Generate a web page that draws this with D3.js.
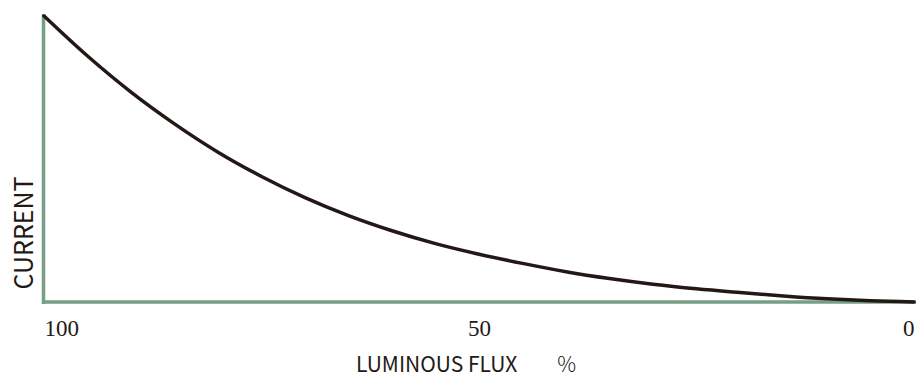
<!DOCTYPE html>
<html>
<head>
<meta charset="utf-8">
<script src="https://cdn.jsdelivr.net/npm/d3@7"></script>
<style>
  body { margin: 0; background: #fff; }
  svg { display: block; }
</style>
</head>
<body>
<div id="chart"></div>
<script>
// luminous flux (%) -> current
var flux    = [100, 95, 90, 85, 80, 75, 70, 65, 60, 55, 50, 45, 40, 35, 30, 25, 20, 15, 10, 5, 0];
var current = [100, 86.0, 73.4, 62.3, 52.4, 43.9, 36.5, 30.2, 24.9, 20.4, 16.7,
               13.5, 10.6, 8.2, 6.2, 4.6, 3.3, 2.1, 1.1, 0.4, 0];
var tickLabels = [100, 50, 0];

var W = 916, H = 379;
var margin = {top: 16, right: 2, bottom: 77, left: 44},
    width = W - margin.left - margin.right,
    height = H - margin.top - margin.bottom;

var data = flux.map(function(f, i) { return {x: f, y: current[i]}; });

var x = d3.scaleLinear().domain([100, 0]).range([0, width]);
var y = d3.scaleLinear().domain([0, 100]).range([height, 0]);

var svg = d3.select("#chart")
    .append("svg")
    .attr("width", W)
    .attr("height", H)
  .append("g")
    .attr("transform", "translate(" + margin.left + "," + margin.top + ")");

var green = "#769e87",
    ink = "#231815";

// axes lines
svg.append("line")
    .attr("x1", -0.5).attr("x2", -0.5)
    .attr("y1", -2).attr("y2", height + 2)
    .style("stroke", green)
    .style("stroke-width", 3.5);

svg.append("line")
    .attr("x1", -2).attr("x2", width + 2)
    .attr("y1", height).attr("y2", height)
    .style("stroke", green)
    .style("stroke-width", 3.5);

// the curve
var line = d3.line()
    .x(function(d) { return x(d.x); })
    .y(function(d) { return y(d.y); })
    .curve(d3.curveMonotoneX);

svg.append("path")
    .datum(data)
    .attr("d", line)
    .style("fill", "none")
    .style("stroke", ink)
    .style("stroke-width", 3.5)
    .style("stroke-linecap", "round");

// x tick labels
var xAxis = svg.append("g")
    .attr("transform", "translate(0," + height + ")")
    .call(d3.axisBottom(x).tickValues(tickLabels).tickSize(0).tickFormat(d3.format("d")));

xAxis.select(".domain").remove();
xAxis.selectAll("text")
    .attr("y", 34)
    .attr("dy", 0)
    .style("font-family", "'Liberation Serif', 'DejaVu Serif', serif")
    .style("font-size", "23px")
    .style("fill", ink)
    .style("text-anchor", function(d) { return d === 100 ? "start" : d === 0 ? "end" : "middle"; });

// axis titles
var title = d3.select("svg").append("text")
    .attr("x", 356)
    .attr("y", 372)
    .style("font-family", "'Noto Sans CJK JP', 'Noto Sans', sans-serif")
    .style("font-size", "21px")
    .style("fill", ink)
    .text("LUMINOUS FLUX");
title.append("tspan")
    .attr("dx", 40)
    .style("font-size", "21px")
    .style("font-weight", 300)
    .text("%");

d3.select("svg").append("text")
    .attr("transform", "translate(33,233) rotate(-90)")
    .style("text-anchor", "middle")
    .style("font-family", "'Noto Sans CJK JP', 'Noto Sans', sans-serif")
    .style("font-size", "25px")
    .style("fill", ink)
    .text("CURRENT");
</script>
</body>
</html>
